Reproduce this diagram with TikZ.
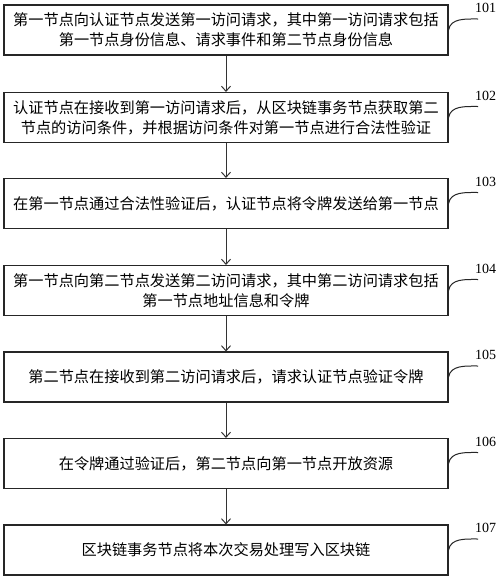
\documentclass[tikz,border=0pt]{standalone}
\usepackage{fontspec}
\newfontfamily\cjk{Noto Sans CJK SC}
\newfontfamily\numfont{Liberation Serif}
\usetikzlibrary{arrows.meta}
\begin{document}
\begin{tikzpicture}[x=1pt,y=-1pt,
  stepbox/.style={draw=black!85,line width=1.1pt,minimum width=444pt,minimum height=50pt,
    inner sep=0pt,align=center,font=\cjk\fontsize{15.2}{20}\selectfont},
  flow/.style={draw=black!80,line width=1pt,-{Straight Barb[length=5pt,width=9pt,line width=1pt]}},
  lead/.style={draw=black!85,line width=1pt},
  numlab/.style={inner sep=0pt,anchor=base west,font=\numfont\fontsize{14}{14}\selectfont}]
\useasboundingbox (0,0) rectangle (500,579);
\fill[white] (0,0) rectangle (500,579);
\node[stepbox] (b1) at (226,30) {第一节点向认证节点发送第一访问请求，其中第一访问请求包括\\第一节点身份信息、请求事件和第二节点身份信息};
\node[stepbox] (b2) at (226,117.5) {认证节点在接收到第一访问请求后，从区块链事务节点获取第二\\节点的访问条件，并根据访问条件对第一节点进行合法性验证};
\node[stepbox] (b3) at (226,203.5) {在第一节点通过合法性验证后，认证节点将令牌发送给第一节点};
\node[stepbox] (b4) at (226,290.5) {第一节点向第二节点发送第二访问请求，其中第二访问请求包括\\第一节点地址信息和令牌};
\node[stepbox] (b5) at (226,377) {第二节点在接收到第二访问请求后，请求认证节点验证令牌};
\node[stepbox] (b6) at (226,463.5) {在令牌通过验证后，第二节点向第一节点开放资源};
\node[stepbox] (b7) at (226,550) {区块链事务节点将本次交易处理写入区块链};
\foreach \i/\j in {1/2,2/3,3/4,4/5,5/6,6/7} \draw[flow] (b\i.south) -- (b\j.north);
\foreach \i/\c in {1/30,2/117.5,3/203.5,4/290.5,5/377,6/463.5,7/550} {
  \coordinate (e\i) at (478,\c-11);
  \node[numlab] (n\i) at (475,\c-17.5) {10\i};
  \draw[lead] (b\i.east) to[out=80,in=180] (e\i);
}
\end{tikzpicture}
\end{document}
